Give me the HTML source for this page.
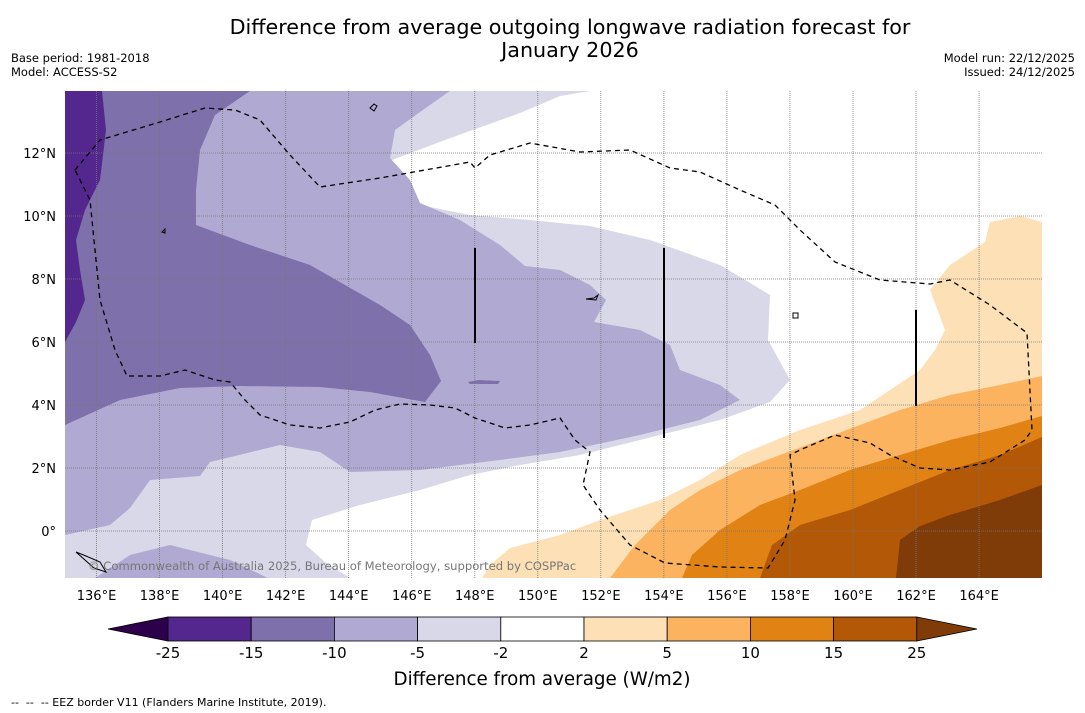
<!DOCTYPE html>
<html><head><meta charset="utf-8"><style>
html,body{margin:0;padding:0;background:#fff;width:1085px;height:713px;overflow:hidden;font-family:"DejaVu Sans","Liberation Sans",sans-serif}
svg{position:absolute;left:0;top:0}
</style></head><body>
<svg id="chart" width="1085" height="713" viewBox="0 0 1085 713">
<text x="570" y="34" font-size="20.7" text-anchor="middle" fill="#000">Difference from average outgoing longwave radiation forecast for</text>
<text x="570" y="57" font-size="20.7" text-anchor="middle" fill="#000">January 2026</text>
<text x="11" y="62" font-size="11.5">Base period: 1981-2018</text>
<text x="11" y="76" font-size="11.5">Model: ACCESS-S2</text>
<text x="1075" y="62" font-size="11.5" text-anchor="end">Model run: 22/12/2025</text>
<text x="1075" y="76" font-size="11.5" text-anchor="end">Issued: 24/12/2025</text>
<defs><clipPath id="mapclip"><rect x="65" y="91" width="977" height="487"/></clipPath></defs>
<g id="map" clip-path="url(#mapclip)">
<rect x="65" y="91" width="977" height="487" fill="#ffffff"/>
<path fill="#d8d8e9" d="M65,91 L590,91 L560,96 L520,113 L445,140 L392,160 L395,182 L420,205 L470,215 L530,220 L590,226 L650,240 L720,265 L770,295 L768,340 L790,380 L770,402 L720,420 L640,440 L580,455 L520,465 L470,475 L420,490 L360,505 L312,520 L306,545 L325,562 L350,578 L65,578 Z"/>
<path fill="#b0a9d2" d="M65,91 L450,91 L420,112 L395,130 L390,158 L410,180 L420,203 L460,220 L500,245 L525,266 L560,270 L590,285 L606,300 L594,322 L640,330 L670,345 L680,370 L720,385 L740,400 L700,420 L640,435 L560,452 L500,460 L420,470 L350,472 L320,452 L280,445 L210,462 L200,476 L150,480 L130,508 L110,525 L65,535 Z M95,578 L130,555 L170,545 L230,560 L268,578 Z"/>
<path fill="#7e70ab" d="M65,91 L250,91 L215,115 L200,150 L196,190 L196,225 L250,245 L310,265 L345,285 L380,305 L410,325 L430,355 L441,381 L425,402 L370,392 L320,387 L240,386 L180,388 L120,400 L65,425 Z"/>
<path fill="#54278f" d="M65,91 L102,91 L106,130 L100,180 L85,210 L76,240 L80,270 L85,300 L76,322 L65,342 Z"/>
<path fill="#7e70ab" d="M468,382 L478,380 L500,381 L498,384 L470,384 Z"/>
<path fill="#fde0b6" d="M1042,222 L1020,216 L990,222 L985,242 L950,265 L930,290 L945,330 L935,350 L920,370 L890,390 L860,410 L800,430 L740,455 L700,480 L660,500 L600,520 L560,535 L510,548 L490,565 L482,578 L1042,578 Z"/>
<path fill="#fcb35f" d="M1042,376 L1000,385 L950,395 L900,410 L860,425 L820,440 L780,455 L740,470 L700,490 L670,510 L635,545 L610,578 L1042,578 Z"/>
<path fill="#e08214" d="M1042,416 L1000,428 L950,440 L900,455 L850,470 L800,490 L760,505 L720,530 L692,555 L682,578 L1042,578 Z"/>
<path fill="#b35806" d="M1042,437 L1000,455 L950,470 L900,490 L850,510 L800,525 L772,545 L760,578 L1042,578 Z"/>
<path fill="#7f3b08" d="M1042,485 L1000,500 L950,515 L920,526 L900,540 L896,578 L1042,578 Z"/>
<g id="grid"></g>
<path fill="none" stroke="#000" stroke-width="1.3" stroke-dasharray="5,4" d="M75,170 L100,140 L160,122 L205,108 L235,110 L260,120 L290,155 L320,187 L380,178 L470,162 L475,168 L490,155 L530,143 L580,152 L630,150 L670,168 L700,172 L740,190 L775,205 L800,230 L835,262 L880,280 L930,284 L950,280 L990,305 L1027,333 L1032,430 L1025,440 L990,462 L950,470 L920,468 L890,455 L870,443 L835,435 L800,450 L790,455 L795,500 L785,540 L768,568 L720,567 L665,563 L630,545 L600,510 L583,485 L590,452 L575,440 L560,418 L530,425 L505,428 L475,418 L455,408 L430,405 L400,404 L375,410 L350,422 L320,428 L290,425 L260,415 L245,400 L230,382 L215,380 L185,370 L160,376 L127,376 L115,350 L100,300 L95,250 L90,200 Z"/>
<line x1="475" y1="248" x2="475" y2="343" stroke="#000" stroke-width="2"/>
<line x1="664" y1="248" x2="664" y2="438" stroke="#000" stroke-width="2"/>
<line x1="916" y1="310" x2="916" y2="406" stroke="#000" stroke-width="2"/>
<path fill="none" stroke="#000" stroke-width="1" d="M370,108 l4,-4 l3,2 l-3,5z M586,299 l8,-1 l4,-3 l-2,5z M793,313 l5,0 l0,5 l-5,0z M162,232 l3,-3 l0,4z M76,552 l10,4 l14,6 l6,10 l-12,-4z"/>
<text x="88" y="570" font-size="11.6" fill="#777">© Commonwealth of Australia 2025, Bureau of Meteorology, supported by COSPPac</text>
</g>
<g id="xticks"></g>
<g id="yticks"></g>
<g id="cbar"></g>
<text x="542" y="685" font-size="18.3" text-anchor="middle">Difference from average (W/m2)</text>
<text x="11" y="706" font-size="11" xml:space="preserve">--  --  -- EEZ border V11 (Flanders Marine Institute, 2019).</text>
</svg>
<script>
const xTickLons=[136,138,140,142,144,146,148,150,152,154,156,158,160,162,164];
const yTickLats=[0,2,4,6,8,10,12];
const cbLevels=[-25,-15,-10,-5,-2,2,5,10,15,25];
const cbColors=["#54278f","#7e70ab","#b0a9d2","#d8d8e9","#ffffff","#fde0b6","#fcb35f","#e08214","#b35806"];
const cbUnder="#2d004b", cbOver="#7f3b08";
const NS="http://www.w3.org/2000/svg";
const xS=lon=>65+(lon-135)*31.52;
const yS=lat=>531-lat*31.5;
function mk(tag,attrs,parent){const e=document.createElementNS(NS,tag);for(const k in attrs)e.setAttribute(k,attrs[k]);parent.appendChild(e);return e;}
const grid=document.getElementById('grid'),xt=document.getElementById('xticks'),yt=document.getElementById('yticks'),cb=document.getElementById('cbar');
xTickLons.forEach(l=>{
 const ln=mk('line',{x1:xS(l),x2:xS(l),y1:91,y2:578,stroke:'#777','stroke-width':0.8,'stroke-dasharray':'1,1'},grid);
 
 
 const t=mk('text',{x:xS(l),y:600,'font-size':13,'text-anchor':'middle'},xt);
 t.textContent=l+'°E';
 
 
});
yTickLats.forEach(l=>{
 const ln=mk('line',{x1:65,x2:1042,y1:yS(l),y2:yS(l),stroke:'#777','stroke-width':0.8,'stroke-dasharray':'1,1'},grid);
 
 
 const t=mk('text',{x:56,y:yS(l)+5,'font-size':13,'text-anchor':'end'},yt);
 t.textContent=l===0?'0°':l+'°N';
 
 
});
const cbX0=168,cbW=83.2,cbY=617,cbH=24;
const cx=i=>cbX0+i*cbW;
const under=mk('polygon',{points:`108,${cbY+cbH/2} ${cx(0)},${cbY} ${cx(0)},${cbY+cbH}`,fill:cbUnder,stroke:'#000','stroke-width':0.8},cb);


cbColors.forEach((c,i)=>{
 const r=mk('rect',{x:cx(i),y:cbY,width:cbW,height:cbH,fill:c,stroke:'#000','stroke-width':0.8},cb);
 
 
});
const n=cbColors.length;
const over=mk('polygon',{points:`${cx(n)},${cbY} 977,${cbY+cbH/2} ${cx(n)},${cbY+cbH}`,fill:cbOver,stroke:'#000','stroke-width':0.8},cb);


cbLevels.forEach((v,i)=>{
 const t=mk('text',{x:cx(i),y:658,'font-size':15,'text-anchor':'middle'},cb);
 t.textContent=v;
 
 
});
</script>
</body></html>
